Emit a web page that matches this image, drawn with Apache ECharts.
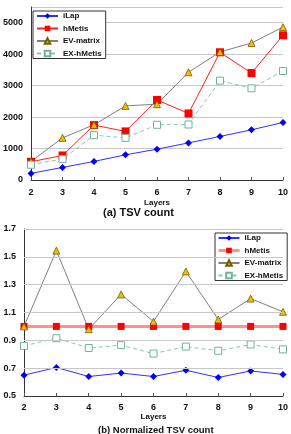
<!DOCTYPE html>
<html>
<head>
<meta charset="UTF-8">
<title>TSV count</title>
<script src="https://cdn.jsdelivr.net/npm/echarts@6/dist/echarts.min.js"></script>
<style>
  html, body { margin: 0; padding: 0; background: #fff; }
  #chart { width: 291px; height: 434px; }
</style>
</head>
<body>
<div id="chart"></div>
<script>
// x categories
var layers = ['2', '3', '4', '5', '6', '7', '8', '9', '10'];
var seriesNames = ['iLap', 'hMetis', 'EV-matrix', 'EX-hMetis'];

// (a) TSV count
var tsvIlap   = [210, 400, 590, 800, 980, 1180, 1385, 1595, 1830];
var tsvHmetis = [580, 780, 1745, 1545, 2545, 2115, 4060, 3400, 4600];
var tsvEv     = [590, 1340, 1755, 2355, 2410, 3425, 4070, 4355, 4860];
var tsvEx     = [485, 665, 1425, 1340, 1755, 1765, 3160, 2915, 3465];

// (b) normalized TSV count
var normIlap   = [0.65, 0.705, 0.64, 0.665, 0.64, 0.685, 0.633, 0.68, 0.655];
var normHmetis = [1, 1, 1, 1, 1, 1, 1, 1, 1];
var normEv     = [1.0, 1.545, 0.98, 1.23, 1.035, 1.395, 1.05, 1.2, 1.105];
var normEx     = [0.86, 0.915, 0.845, 0.865, 0.805, 0.855, 0.825, 0.87, 0.835];

// y tick labels / grid lines of (b)
var normTicks = [0.5, 0.7, 0.9, 1.1, 1.3, 1.5, 1.7];

var FONT = 'Liberation Sans';
var gridColor = '#c8c8c8';

function axisX(idx, labelMargin, nameGap) {
  return {
    type: 'category', gridIndex: idx, data: layers, boundaryGap: false,
    axisLine: { lineStyle: { color: '#333', width: 1 } },
    axisTick: { show: true, inside: true, length: 3, alignWithLabel: true, lineStyle: { color: '#555' } },
    axisLabel: { fontFamily: FONT, fontWeight: 'bold', fontSize: 9, color: '#111', margin: labelMargin },
    name: 'Layers', nameLocation: 'middle', nameGap: nameGap,
    nameTextStyle: { fontFamily: FONT, fontWeight: 'bold', fontSize: 8, color: '#111' }
  };
}

var ilapStyle = { symbol: 'diamond', symbolSize: 7, itemStyle: { color: '#0000ff' }, lineStyle: { color: '#3030ff', width: 1 } };
var evStyle = { symbol: 'triangle', symbolSize: 7, itemStyle: { color: '#f0bf00', borderColor: '#7a5c00', borderWidth: 0.8 }, lineStyle: { color: '#808080', width: 1 } };
var exStyle = { symbol: 'rect', symbolSize: 7, itemStyle: { color: '#fff', borderColor: '#6fb3a0', borderWidth: 1 }, lineStyle: { color: '#8cc4b4', width: 1, type: [4, 3] } };

function mk(name, data, idx, style) {
  var s = { name: name, type: 'line', xAxisIndex: idx, yAxisIndex: idx, data: data, showAllSymbol: true, animation: false };
  for (var k in style) s[k] = style[k];
  return s;
}

var legendBase = {
  orient: 'vertical', itemWidth: 21, itemHeight: 7, itemGap: 4.5,
  borderColor: '#333', borderWidth: 1, backgroundColor: '#fff', borderRadius: 0,
  textStyle: { fontFamily: FONT, fontWeight: 'bold', fontSize: 8, color: '#111' }
};

var myChart = echarts.init(document.getElementById('chart'));
myChart.setOption({
  backgroundColor: '#fff',
  animation: false,
  title: [
    { text: '(a) TSV count', left: 98, top: 202, textStyle: { fontFamily: FONT, fontWeight: 'bold', fontSize: 11, color: '#111' } },
    { text: '(b) Normalized TSV count', left: 93, top: 420, textStyle: { fontFamily: FONT, fontWeight: 'bold', fontSize: 9.5, color: '#111' } }
  ],
  legend: [
    Object.assign({}, legendBase, { left: 33, top: 11, padding: [1, 4, 1, 3], data: seriesNames }),
    Object.assign({}, legendBase, { left: 215, top: 233, padding: [1, 4, 1, 2],
      data: ['iLap', { name: 'hMetis', lineStyle: { color: '#ff9090', width: 3 } }, 'EV-matrix', 'EX-hMetis'] })
  ],
  grid: [
    { left: 30, right: 3, top: 7, bottom: 254 },
    { left: 24, right: 5, top: 229, bottom: 38 }
  ],
  xAxis: [axisX(0, 8, 19), axisX(1, 7, 15)],
  yAxis: [
    {
      type: 'value', gridIndex: 0, min: 0, max: 5500, interval: 1000,
      axisLine: { show: true, lineStyle: { color: '#333' } },
      axisTick: { show: false },
      splitLine: { lineStyle: { color: gridColor, width: 1 } },
      axisLabel: { fontFamily: FONT, fontWeight: 'bold', fontSize: 9, color: '#111', margin: 8,
        formatter: function (v) { return v > 5000 ? '' : v; } }
    },
    {
      type: 'value', gridIndex: 1, min: 0.5, max: 1.7, interval: 0.1,
      axisLine: { show: true, lineStyle: { color: '#333' } },
      axisTick: { show: false },
      splitLine: { show: false },
      axisLabel: { fontFamily: FONT, fontWeight: 'bold', fontSize: 9, color: '#111', margin: 8,
        formatter: function (v) {
          var r = Math.round(v * 10) / 10;
          return normTicks.indexOf(r) >= 0 ? r.toFixed(1) : '';
        } }
    }
  ],
  series: [
    mk('iLap', tsvIlap, 0, ilapStyle),
    mk('hMetis', tsvHmetis, 0, { symbol: 'rect', symbolSize: 8, itemStyle: { color: '#ff0000' }, lineStyle: { color: '#ff2020', width: 1 } }),
    mk('EV-matrix', tsvEv, 0, evStyle),
    mk('EX-hMetis', tsvEx, 0, exStyle),
    {
      name: 'grid-b', type: 'line', xAxisIndex: 1, yAxisIndex: 1, data: [], z: 1, silent: true,
      markLine: {
        silent: true, symbol: 'none', animation: false, label: { show: false },
        lineStyle: { color: gridColor, width: 1, type: 'solid' },
        data: normTicks.slice(1).map(function (v) { return { yAxis: v }; })
      }
    },
    mk('hMetis', normHmetis, 1, { symbol: 'rect', symbolSize: 7, itemStyle: { color: '#ff0000' }, lineStyle: { color: '#ff9090', width: 3 } }),
    mk('EV-matrix', normEv, 1, evStyle),
    mk('EX-hMetis', normEx, 1, exStyle),
    mk('iLap', normIlap, 1, ilapStyle)
  ]
});
</script>
</body>
</html>
